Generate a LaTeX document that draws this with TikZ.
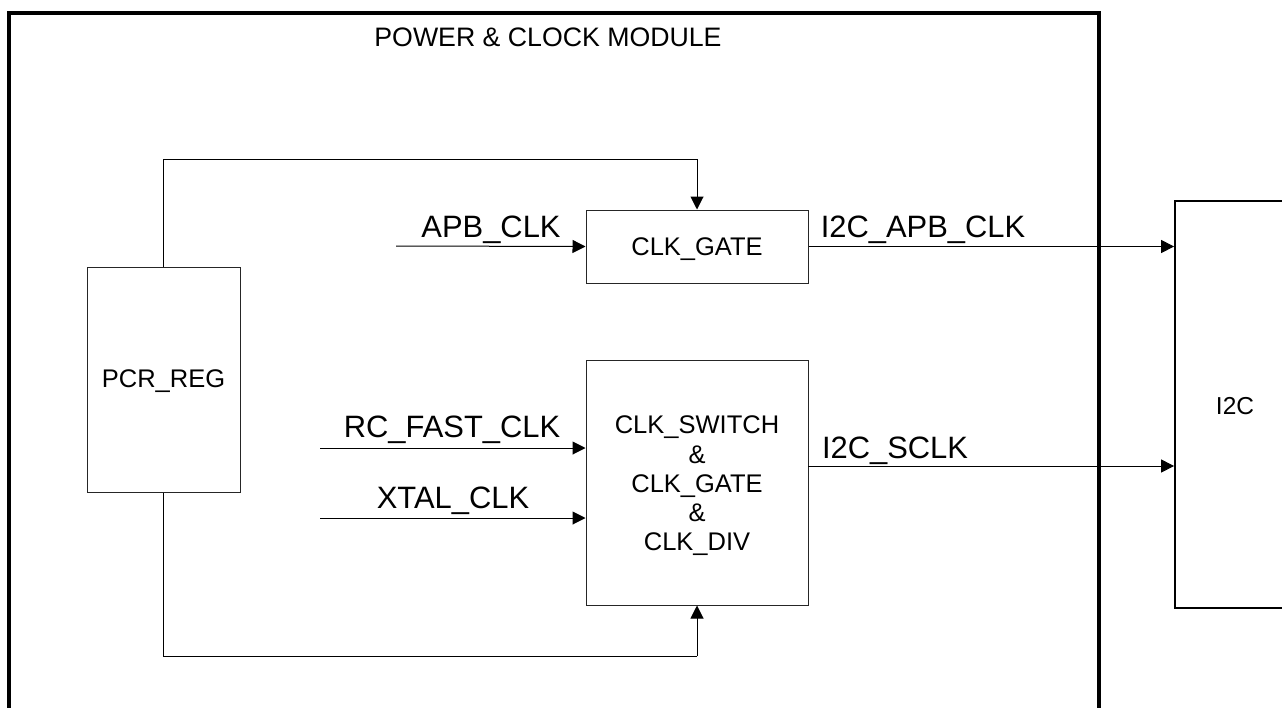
\documentclass[tikz,border=0pt]{standalone}
\usepackage{fontspec}
\setmainfont{Liberation Sans}
\usetikzlibrary{arrows.meta}
\begin{document}
\begin{tikzpicture}[x=1pt,y=-1pt,
  blk/.style={draw=black!85,line width=1pt,inner sep=0pt},
  btxt/.style={inner sep=0pt,align=center,font=\fontsize{25.5}{29.3}\selectfont},
  lbl/.style={inner sep=0pt,anchor=base,font=\fontsize{30.9}{35}\selectfont},
  ttl/.style={inner sep=0pt,anchor=base,font=\fontsize{26.7}{30}\selectfont},
  arr/.style={draw=black,line width=1pt,-{Triangle[length=13pt,width=13pt]}},
  wire/.style={draw=black,line width=1pt}]
\useasboundingbox (0,0) rectangle (1282,707);
\clip (0,0) rectangle (1282,707);
\fill[white] (0,0) rectangle (1282,707);
% module frame
\draw[line width=4pt] (9,13) rectangle (1099,730);
\node[ttl] (title) at (548,46) {POWER \& CLOCK MODULE};
% blocks
\node[blk,minimum width=153pt,minimum height=225pt] (pcr) at (163.5,379.5) {};
\node[btxt] (pcrtxt) at (163.5,381) {PCR\_REG};
\node[blk,minimum width=222pt,minimum height=73pt] (gate) at (697,246.5) {};
\node[btxt] (gatetxt) at (697,249.5) {CLK\_GATE};
\node[blk,minimum width=222pt,minimum height=245pt] (sw) at (697,482.5) {};
\node[btxt] (swtxt) at (697,486) {CLK\_SWITCH\\\&\\CLK\_GATE\\\&\\CLK\_DIV};
\node[blk,draw=black,line width=1.8pt,minimum width=120pt,minimum height=407pt] (i2c) at (1235,404.5) {};
\node[btxt,font=\fontsize{24.5}{29}\selectfont] (i2ctxt) at (1235,406) {I2C};
% free ends
\coordinate (apbin) at (396,246);
\coordinate (rcin) at (320,448);
\coordinate (xtin) at (320,518);
\coordinate (sclk) at (808,466);
\coordinate (toploop) at (697,159);
\coordinate (botloop) at (697,656);
% wires
\draw[arr] (apbin) -- (gate.west);
\draw[arr] (rcin) -- (sw.west |- rcin);
\draw[arr] (xtin) -- (sw.west |- xtin);
\draw[arr] (gate.east) -- (i2c.west |- gate.east);
\draw[arr] (sclk) -- (i2c.west |- sclk);
\draw[wire] (pcr.north) |- (toploop);
\draw[arr] (toploop) -- (gate.north);
\draw[wire] (pcr.south) |- (botloop);
\draw[arr] (botloop) -- (sw.south);
% labels
\node[lbl] (lapb) at (491,237) {APB\_CLK};
\node[lbl] (lrc) at (452,437) {RC\_FAST\_CLK};
\node[lbl] (lxt) at (453,508) {XTAL\_CLK};
\node[lbl] (li2capb) at (923,237) {I2C\_APB\_CLK};
\node[lbl] (lsclk) at (895,458) {I2C\_SCLK};
\end{tikzpicture}
\end{document}
